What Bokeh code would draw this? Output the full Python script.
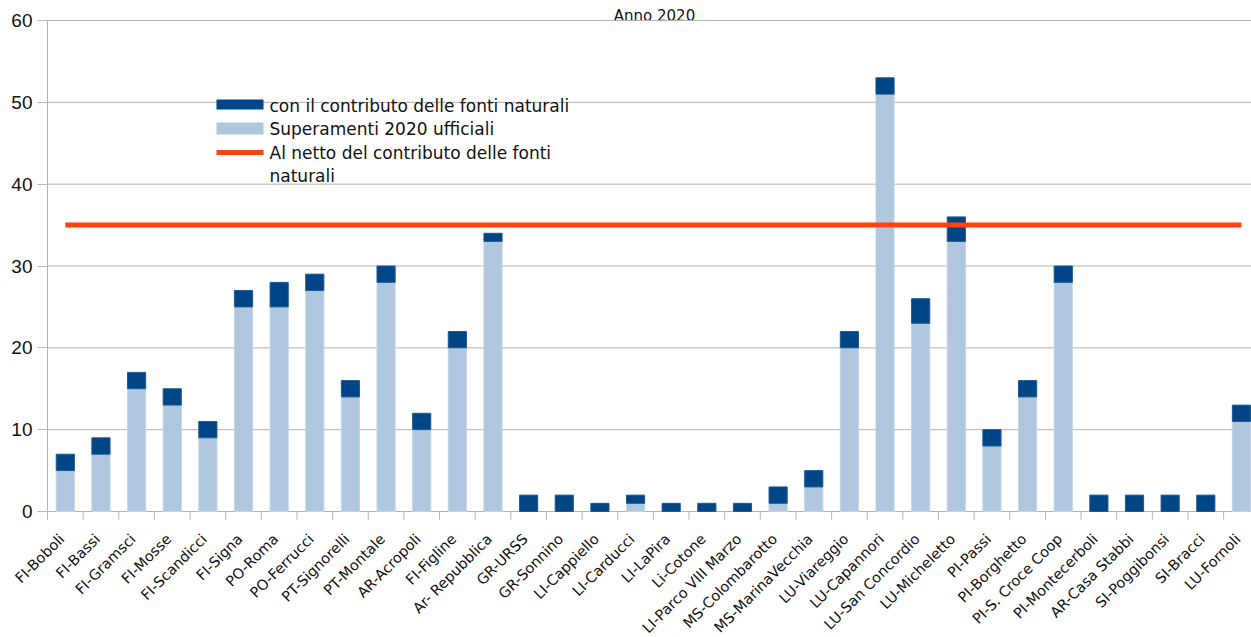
import math
from bokeh.plotting import figure
from bokeh.models import Range1d, FixedTicker, Label, BoxAnnotation, ColumnDataSource
from bokeh.core.properties import value
from bokeh.embed import file_html
from bokeh.resources import INLINE

# ---------------- data ----------------
stations = ["FI-Boboli", "FI-Bassi", "FI-Gramsci", "FI-Mosse", "FI-Scandicci", "FI-Signa",
            "PO-Roma", "PO-Ferrucci", "PT-Signorelli", "PT-Montale", "AR-Acropoli", "FI-Figline",
            "Ar- Repubblica", "GR-URSS", "GR-Sonnino", "LI-Cappiello", "LI-Carducci", "LI-LaPira",
            "Li-Cotone", "LI-Parco VIII Marzo", "MS-Colombarotto", "MS-MarinaVecchia",
            "LU-Viareggio", "LU-Capannori", "LU-San Concordio", "LU-Micheletto", "PI-Passi",
            "PI-Borghetto", "PI-S. Croce Coop", "PI-Montecerboli", "AR-Casa Stabbi",
            "SI-Poggibonsi", "SI-Bracci", "LU-Fornoli"]
# Superamenti 2020 ufficiali (light)
ufficiali = [5, 7, 15, 13, 9, 25, 25, 27, 14, 28, 10, 20,
             33, 0, 0, 0, 1, 0, 0, 0, 1, 3,
             20, 51, 23, 33, 8, 14, 28, 0, 0, 0, 0, 11]
# additional part "con il contributo delle fonti naturali" (dark)
contributo = [2, 2, 2, 2, 2, 2, 3, 2, 2, 2, 2, 2,
              1, 2, 2, 1, 1, 1, 1, 1, 2, 2,
              2, 2, 3, 3, 2, 2, 2, 2, 2, 2, 2, 2]
# Al netto del contributo delle fonti naturali (limit line)
soglia = 35
y_ticks = [0, 10, 20, 30, 40, 50, 60]
title_text = "Anno 2020"

DARK = "#004586"
LIGHT = "#afc8df"
RED = "#ff420e"
GRID = "#b3b3b3"
FONT = "DejaVu Sans"

# ---------------- geometry ----------------
W, H = 1251, 637
X0 = 47                       # pixel column of the value axis
Y0, Y60 = 511, 20             # pixel rows of value 0 and value 60
px_per_unit = (Y0 - Y60) / 60.0
px_per_cat = 35.64
x_start = -X0 / px_per_cat
x_end = (W - X0) / px_per_cat
y_start = -(H - Y0) / px_per_unit
y_end = 60 + Y60 / px_per_unit

def dx(px):  # canvas x pixel -> data x
    return (px - X0) / px_per_cat

def dy(py):  # canvas y pixel (from top) -> data y
    return (Y0 - py) / px_per_unit

n = len(stations)
xc = [i + 0.5 for i in range(n)]
totale = [u + c for u, c in zip(ufficiali, contributo)]
src = ColumnDataSource(dict(x=xc, uff=ufficiali, tot=totale, lim=[soglia for _ in stations]))

p = figure(width=W, height=H, output_backend="svg", toolbar_location=None,
           x_range=Range1d(x_start, x_end), y_range=Range1d(y_start, y_end),
           min_border_left=0, min_border_right=0, min_border_top=0, min_border_bottom=0)
p.outline_line_color = None
p.background_fill_color = "white"
p.border_fill_color = "white"
p.xgrid.visible = False
p.ygrid.visible = False
p.xaxis.visible = False

# title
p.text(x=[dx(654)], y=[dy(15)], text=[title_text], text_align="center",
       text_baseline="alphabetic", text_font=value(FONT), text_font_size="15px",
       text_color="#111111")

# horizontal grid lines (from the value axis to the right edge)
p.segment(x0=[0] * len(y_ticks), y0=y_ticks, x1=[n] * len(y_ticks), y1=y_ticks,
          line_color=GRID, line_width=1)

# bars
p.vbar(x="x", width=0.51, bottom=0, top="uff", source=src,
       fill_color=LIGHT, line_color="#c3d5e7", line_width=1)
p.vbar(x="x", width=0.51, bottom="uff", top="tot", source=src,
       fill_color=DARK, line_color="#1f5a94", line_width=1)
# limit line
p.line(x="x", y="lim", source=src, line_color=RED, line_width=5)

# category axis drawn by hand: boundary ticks and rotated labels
tick_len = 8 / px_per_unit
bounds = list(range(n + 1))
p.segment(x0=bounds, y0=[0] * len(bounds), x1=bounds, y1=[-tick_len] * len(bounds),
          line_color=GRID, line_width=1)
lab_dx = -3.5 / px_per_cat
lab_dy = 25 / px_per_unit
p.text(x=[v + lab_dx for v in xc], y=[-lab_dy] * n, text=stations, angle=math.pi / 4,
       text_align="right", text_baseline="middle", text_font=value(FONT),
       text_font_size="14.5px", text_color="#111111")

# y axis, fixed at x = 0
ya = p.yaxis[0]
ya.fixed_location = 0
ya.ticker = FixedTicker(ticks=y_ticks)
ya.bounds = (-tick_len, 60)
ya.minor_tick_line_color = None
ya.major_tick_out = 10
ya.major_tick_in = 0
ya.major_tick_line_color = GRID
ya.axis_line_color = GRID
ya.major_label_text_font = "Liberation Sans"
ya.major_label_text_font_size = "19px"
ya.major_label_text_color = "#111111"
ya.major_label_standoff = 5

# legend (manual)
sw_l, sw_r = dx(216), dx(263)
p.add_layout(BoxAnnotation(left=sw_l, right=sw_r, top=dy(99), bottom=dy(109),
                           fill_color=DARK, fill_alpha=1, line_color=None))
p.add_layout(BoxAnnotation(left=sw_l, right=sw_r, top=dy(122), bottom=dy(134),
                           fill_color=LIGHT, fill_alpha=1, line_color=None))
p.add_layout(BoxAnnotation(left=sw_l, right=sw_r, top=dy(149.5), bottom=dy(154.5),
                           fill_color=RED, fill_alpha=1, line_color=None))
legend_texts = ["con il contributo delle fonti naturali", "Superamenti 2020 ufficiali",
                "Al netto del contributo delle fonti", "naturali"]
legend_rows = [105, 128, 152, 175]
for t, r in zip(legend_texts, legend_rows):
    p.add_layout(Label(x=dx(269), y=dy(r), text=t, text_font=FONT, text_font_size="17px",
                       text_color="#111111", text_baseline="middle", text_align="left"))

open("out.html", "w").write(file_html(p, INLINE))
